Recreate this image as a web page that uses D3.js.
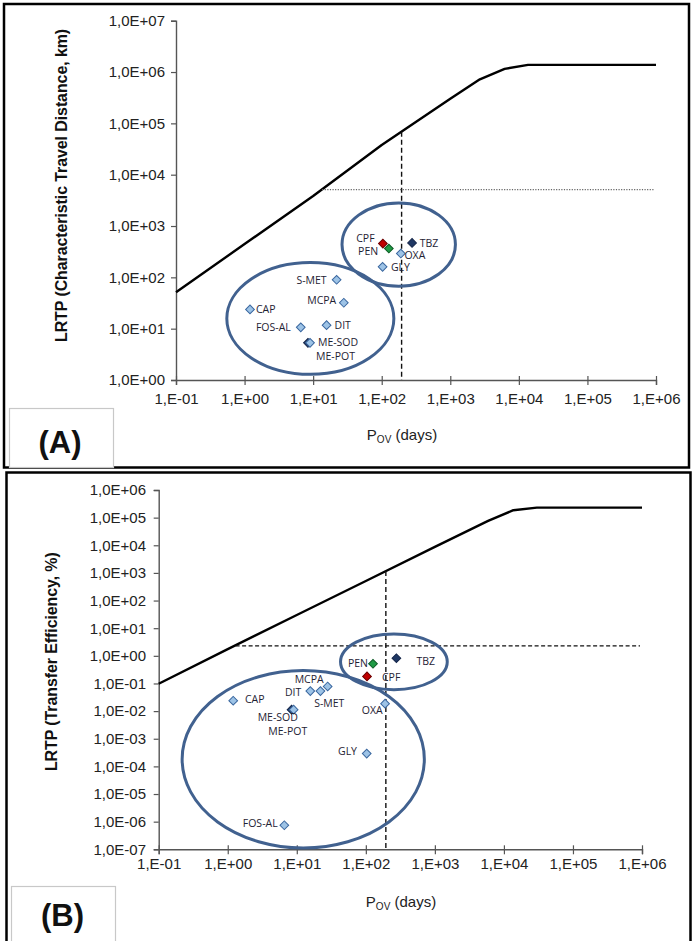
<!DOCTYPE html>
<html>
<head>
<meta charset="utf-8">
<script src="https://cdn.jsdelivr.net/npm/d3@7"></script>
<style>
  html, body { margin: 0; padding: 0; background: #fff; }
  svg { display: block; }
</style>
</head>
<body>
<svg id="chart" width="692" height="941"></svg>
<script>
// ---------------- DATA ----------------
const compounds = ["CAP", "FOS-AL", "ME-SOD", "ME-POT", "DIT", "S-MET", "MCPA", "GLY", "CPF", "PEN", "OXA", "TBZ"];
const compoundGroup = ["light", "light", "navy", "light", "light", "light", "light", "light", "red", "green", "light", "navy"];
// Overall persistence P_OV (days)
const povDays = [1.2, 6.6, 8.4, 9.0, 15.7, 22, 28, 103, 104, 127, 190, 277];
// Panel A: characteristic travel distance (km)
const ctdKm = [23.7, 10.6, 5.3, 5.3, 11.7, 89.6, 32, 160, 455, 364, 291, 469];
// Panel B: transfer efficiency (%)
const tePct = [0.0238, 7.4e-7, 0.0113, 0.0113, 0.053, 0.053, 0.078, 2.9e-4, 0.18, 0.515, 0.0186, 0.82];

// Reference (limit) curves
const curvePovA = [0.1, 1, 10, 100, 1000, 2700, 6200, 13600, 1e6];
const curveCtdA = [51, 446, 3840, 37800, 3.0e5, 7.2e5, 1.15e6, 1.38e6, 1.38e6];
const curvePovB = [0.1, 1, 10, 100, 1000, 5900, 13700, 30000, 1e6];
const curveTeB  = [0.098, 1.74, 30, 510, 8700, 7.6e4, 1.86e5, 2.3e5, 2.3e5];

// Threshold lines
const povThreshold = 195;             // days (vertical dashed)
const ctdThreshold = 5100;            // km (horizontal dotted, A)
const ctdThresholdStart = 13.5;       // days
const teThreshold = 2.3;              // % (horizontal dashed, B)
const teThresholdStart = 1.3;         // days

// Cluster ellipses: [centre P_OV, centre LRTP, half-width (decades), half-height (decades)]
const clustersA = [[9.1, 15.8, 1.218, 1.089], [177, 435, 0.827, 0.811]];
const clustersB = [[12.4, 1.82e-4, 1.754, 3.21], [255, 0.608, 0.773, 1.01]];

// Axis tick exponents
const xTickExp = [-1, 0, 1, 2, 3, 4, 5, 6];
const yTickExpA = [0, 1, 2, 3, 4, 5, 6, 7];
const yTickExpB = [-7, -6, -5, -4, -3, -2, -1, 0, 1, 2, 3, 4, 5, 6];

// ---------------- LAYOUT / STYLE ----------------
const colors = {
  light: { fill: "#9dc3e6", stroke: "#3a679f" },
  navy:  { fill: "#1f3864", stroke: "#15264a" },
  red:   { fill: "#c00000", stroke: "#6e0000" },
  green: { fill: "#1f9a45", stroke: "#0c5a24" }
};
// label offsets per compound: [anchor, dx, dy]
const labelPosA = {
  "CAP": ["start", 6, 0], "FOS-AL": ["end", -10, 0], "ME-SOD": ["start", 10, -0.5], "ME-POT": ["start", 6, 13.5],
  "DIT": ["start", 8, 0], "S-MET": ["end", -10, 0], "MCPA": ["end", -7.6, -2.6], "GLY": ["start", 8.4, 0],
  "CPF": ["end", -8.3, -5.5], "PEN": ["end", -10.7, 3], "OXA": ["start", 3.6, 2], "TBZ": ["start", 7.6, 0]
};
const labelPosB = {
  "CAP": ["start", 11.7, -1], "FOS-AL": ["end", -6.7, -2], "ME-SOD": ["middle", -13.8, 7.5], "ME-POT": ["middle", -5.8, 21.5],
  "DIT": ["end", -9, 1], "S-MET": ["start", -6.3, 12.5], "MCPA": ["end", -4, -7], "GLY": ["end", -9.7, -2.6],
  "CPF": ["start", 15, 1.3], "PEN": ["end", -5, -0.6], "OXA": ["end", -2.4, 6.7], "TBZ": ["start", 20, 3.3]
};

const panels = [
  {
    frame: [4, 4, 685, 463.5], tagBox: [9.5, 408.5, 104, 59], tag: "(A)", tagPos: [60, 453],
    xRange: [176, 656], yRange: [380, 20.7], yDomain: [1, 1e7], yTicks: yTickExpA,
    yFmt: e => "1,0E" + (e < 0 ? "-" : "+") + String(Math.abs(e)).padStart(2, "0"),
    yTitle: "LRTP (Characteristic Travel Distance, km)", yTitlePos: [61.5, 185.5],
    xTitlePos: [402, 440], xLabelBaseline: 404, yLabelRight: 165,
    curveX: curvePovA, curveY: curveCtdA, values: ctdKm,
    thr: ctdThreshold, thrStart: ctdThresholdStart, thrDash: "1.2,1.4", thrColor: "#666", thrWidth: 1.3,
    clusters: clustersA, labelPos: labelPosA
  },
  {
    frame: [6.5, 472.5, 684, 480], tagBox: [11.5, 886.5, 104, 60], tag: "(B)", tagPos: [62.5, 926],
    xRange: [158.7, 642], yRange: [849.3, 490], yDomain: [1e-7, 1e6], yTicks: yTickExpB,
    yFmt: e => "1,0E" + (e < 0 ? "-" : "+") + String(Math.abs(e)).padStart(2, "0"),
    yTitle: "LRTP (Transfer Efficiency,  %)", yTitlePos: [51, 661.7],
    xTitlePos: [401, 907], xLabelBaseline: 869, yLabelRight: 146,
    curveX: curvePovB, curveY: curveTeB, values: tePct,
    thr: teThreshold, thrStart: teThresholdStart, thrDash: "4,2.5", thrColor: "#111", thrWidth: 1.2,
    clusters: clustersB, labelPos: labelPosB
  }
];

const svg = d3.select("#chart");
svg.append("rect").attr("width", 692).attr("height", 941).attr("fill", "#fff");

const xFmt = e => "1,E" + (e < 0 ? "-" : "+") + String(Math.abs(e)).padStart(2, "0");
const TICK_FONT = "'Liberation Sans', Arial, sans-serif";

panels.forEach(p => {
  const g = svg.append("g");
  // frame
  g.append("rect").attr("x", p.frame[0]).attr("y", p.frame[1]).attr("width", p.frame[2]).attr("height", p.frame[3])
    .attr("fill", "none").attr("stroke", "#000").attr("stroke-width", 2.5);
  // tag box
  g.append("rect").attr("x", p.tagBox[0]).attr("y", p.tagBox[1]).attr("width", p.tagBox[2]).attr("height", p.tagBox[3])
    .attr("fill", "#fff").attr("stroke", "#c8c8c8").attr("stroke-width", 1.2);
  g.append("text").attr("x", p.tagPos[0]).attr("y", p.tagPos[1]).attr("text-anchor", "middle")
    .attr("font-family", TICK_FONT).attr("font-weight", "bold").attr("font-size", 31).attr("fill", "#111")
    .text(p.tag);

  const x = d3.scaleLog().domain([0.1, 1e6]).range(p.xRange);
  const y = d3.scaleLog().domain(p.yDomain).range(p.yRange);

  // axes
  const yAxis = d3.axisLeft(y).tickValues(p.yTicks.map(e => Math.pow(10, e)))
    .tickFormat((d, i) => p.yFmt(p.yTicks[i])).tickSize(5).tickPadding(6);
  const ya = g.append("g").attr("transform", `translate(${p.xRange[0]},0)`).call(yAxis);
  ya.select(".domain").attr("stroke", "#555").attr("stroke-width", 1.4);
  ya.selectAll(".tick line").attr("stroke", "#555").attr("stroke-width", 1.2);
  ya.selectAll(".tick text").attr("font-family", TICK_FONT).attr("font-size", 15).attr("fill", "#222")
    .attr("x", p.yLabelRight - p.xRange[0]);

  const xAxis = d3.axisBottom(x).tickValues(xTickExp.map(e => Math.pow(10, e)))
    .tickFormat((d, i) => xFmt(xTickExp[i])).tickSize(5).tickPadding(6);
  const xa = g.append("g").attr("transform", `translate(0,${p.yRange[0]})`).call(xAxis);
  xa.select(".domain").attr("stroke", "#555").attr("stroke-width", 1.4);
  xa.selectAll(".tick line").attr("stroke", "#555").attr("stroke-width", 1.2).attr("y1", -4);
  xa.selectAll(".tick text").attr("font-family", TICK_FONT).attr("font-size", 15).attr("fill", "#222")
    .attr("dy", null).attr("y", p.xLabelBaseline - p.yRange[0]);

  // titles
  g.append("text").attr("transform", `translate(${p.yTitlePos[0]},${p.yTitlePos[1]}) rotate(-90)`)
    .attr("text-anchor", "middle").attr("dominant-baseline", "central")
    .attr("font-family", TICK_FONT).attr("font-weight", "bold").attr("font-size", 16).attr("fill", "#111")
    .attr("letter-spacing", -0.1)
    .text(p.yTitle);
  const xt = g.append("text").attr("x", p.xTitlePos[0]).attr("y", p.xTitlePos[1]).attr("text-anchor", "middle")
    .attr("font-family", TICK_FONT).attr("font-size", 15).attr("fill", "#222");
  xt.append("tspan").text("P");
  xt.append("tspan").attr("font-size", 10).attr("dy", 3).text("OV");
  xt.append("tspan").attr("dy", -3).text(" (days)");

  // limit curve
  const curve = p.curveX.map((v, i) => [v, p.curveY[i]]);
  g.append("path").datum(curve)
    .attr("d", d3.line().x(d => x(d[0])).y(d => y(d[1])))
    .attr("fill", "none").attr("stroke", "#000").attr("stroke-width", 2.4).attr("stroke-linejoin", "round");

  // curve value at threshold P_OV (log interpolation)
  const interp = v => {
    const lx = Math.log10(v);
    for (let i = 0; i < p.curveX.length - 1; i++) {
      const a = Math.log10(p.curveX[i]), b = Math.log10(p.curveX[i + 1]);
      if (lx >= a && lx <= b) {
        const t = (lx - a) / (b - a);
        return Math.pow(10, Math.log10(p.curveY[i]) + t * (Math.log10(p.curveY[i + 1]) - Math.log10(p.curveY[i])));
      }
    }
    return p.curveY[p.curveY.length - 1];
  };
  // vertical dashed
  g.append("line").attr("x1", x(povThreshold)).attr("x2", x(povThreshold))
    .attr("y1", y(interp(povThreshold))).attr("y2", p.yRange[0])
    .attr("stroke", "#111").attr("stroke-width", 1.4).attr("stroke-dasharray", "5,3");
  // horizontal threshold
  g.append("line").attr("x1", x(p.thrStart)).attr("x2", x(1e6) - 2)
    .attr("y1", y(p.thr)).attr("y2", y(p.thr))
    .attr("stroke", p.thrColor).attr("stroke-width", p.thrWidth).attr("stroke-dasharray", p.thrDash);

  // cluster ellipses
  const pxPerDecX = (p.xRange[1] - p.xRange[0]) / 7;
  const pxPerDecY = (p.yRange[0] - p.yRange[1]) / (Math.log10(p.yDomain[1]) - Math.log10(p.yDomain[0]));
  g.selectAll("ellipse.cl").data(p.clusters).enter().append("ellipse").attr("class", "cl")
    .attr("cx", d => x(d[0])).attr("cy", d => y(d[1]))
    .attr("rx", d => d[2] * pxPerDecX).attr("ry", d => d[3] * pxPerDecY)
    .attr("fill", "none").attr("stroke", "#41618f").attr("stroke-width", 3);

  // points
  const pts = compounds.map((c, i) => ({ name: c, pov: povDays[i], v: p.values[i], grp: compoundGroup[i] }));
  const sym = d3.symbol().type(d3.symbolSquare).size(38);
  g.selectAll("path.pt").data(pts).enter().append("path").attr("class", "pt")
    .attr("d", sym)
    .attr("transform", d => `translate(${x(d.pov)},${y(d.v)}) rotate(45)`)
    .attr("fill", d => colors[d.grp].fill).attr("stroke", d => colors[d.grp].stroke).attr("stroke-width", 1);

  // labels
  g.selectAll("text.lbl").data(pts).enter().append("text").attr("class", "lbl")
    .attr("x", d => x(d.pov) + p.labelPos[d.name][1])
    .attr("y", d => y(d.v) + p.labelPos[d.name][2])
    .attr("dy", "0.36em")
    .attr("text-anchor", d => p.labelPos[d.name][0])
    .attr("font-family", "'Open Sans', sans-serif").attr("font-size", 10.5).attr("fill", "#1e2233")
    .text(d => d.name);
});
</script>
</body>
</html>
